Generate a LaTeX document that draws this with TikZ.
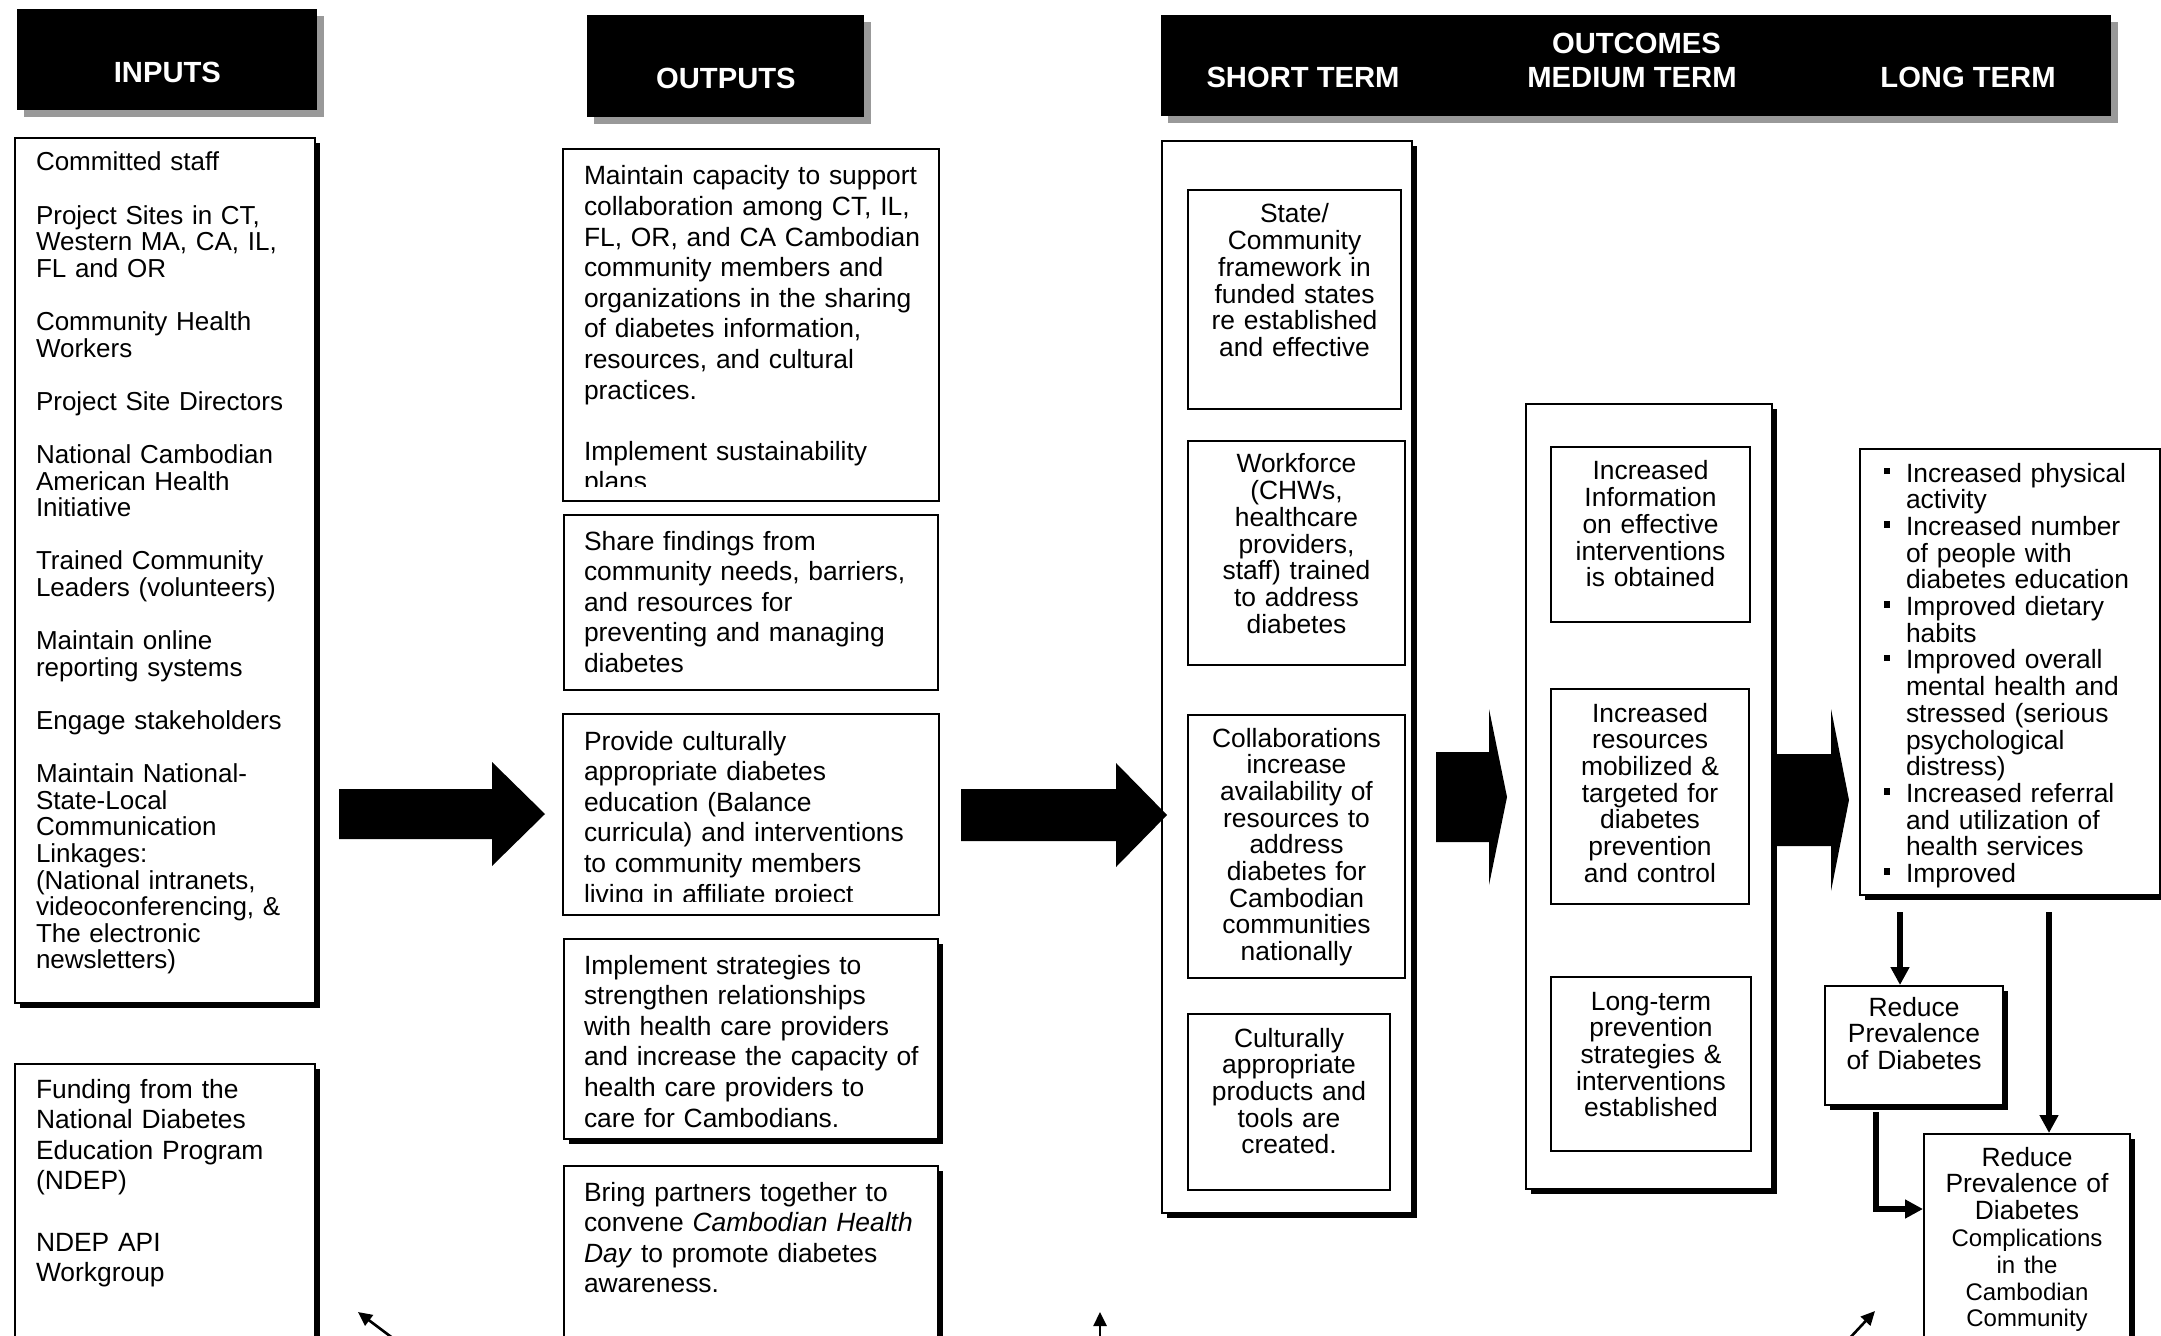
\documentclass[tikz,border=0pt]{standalone}
\usepackage{fontspec}
\setmainfont{Liberation Sans}
\usetikzlibrary{arrows.meta,shadows,calc}

\newcommand{\inputsfont}{\fontsize{13}{13.3}\selectfont}
\newcommand{\outputsfont}{\fontsize{13.2}{15.3}\selectfont}
\newcommand{\outcomefont}{\fontsize{13.2}{13.35}\selectfont}
\newcommand{\headfont}{\fontsize{14.6}{17}\selectfont\bfseries}
\newcommand{\bitem}{\hangindent=11pt\hangafter=1\noindent\makebox[11pt][l]{\rule[3.9pt]{3.2pt}{3.2pt}}}
\newcommand{\indentout}{\leftskip=5pt\relax}

\begin{document}
\begin{tikzpicture}[x=0.5pt, y=-0.5pt,
  hdr/.style={fill=black, text=white, font=\headfont, anchor=north west, inner sep=0pt, align=center,
    drop shadow={shadow xshift=3.5pt, shadow yshift=-3.5pt, fill=black!40, opacity=1}},
  hdrtxt/.style={text=white, font=\headfont, anchor=base, inner sep=0pt},
  box/.style={draw, line width=1pt, fill=white, anchor=north west, inner ysep=0pt, inner xsep=10pt, align=left},
  outbox/.style={box, font=\outputsfont, inner xsep=5pt, text width=177pt, text height=17.5pt},
  bshadow/.style={drop shadow={shadow xshift=2.5pt, shadow yshift=-2.5pt, fill=black, opacity=1}},
  obox/.style={box, align=center, inner xsep=3pt, font=\outcomefont},
  conn/.style={line width=2.8pt, -{Triangle[length=9pt,width=9pt]}},
  ptr/.style={line width=1.3pt, -{Triangle[length=7pt,width=6.5pt]}}]
  \useasboundingbox (0,0) rectangle (2161,1336);
  \clip (0,0) rectangle (2161,1336);

  % headers
  \node[hdr, text width=150pt, text height=36.5pt, text depth=14pt] (hin) at (17,9) {INPUTS};
  \node[hdr, text width=138.5pt, text height=36.5pt, text depth=14.5pt] (hout) at (587,15) {OUTPUTS};
  \node[hdr, text width=475pt, text height=19pt, text depth=31.5pt] (hres) at (1161,15) {OUTCOMES};
  \node[hdrtxt] (hshort) at (1303,88) {SHORT TERM};
  \node[hdrtxt] (hmed) at (1632,88) {MEDIUM TERM};
  \node[hdrtxt] (hlong) at (1968,88) {LONG TERM};

  % inputs
  \node[box, bshadow, font=\inputsfont, inner xsep=10.5pt, text width=129pt, text height=16.5pt, text depth=416pt] (in1) at (14,137)
    {Committed staff\\[13.3pt]
     Project Sites in CT,\\ Western MA, CA, IL,\\ FL and OR\\[13.3pt]
     Community Health\\ Workers\\[13.3pt]
     Project Site Directors\\[13.3pt]
     National Cambodian\\ American Health\\ Initiative\\[13.3pt]
     Trained Community\\ Leaders (volunteers)\\[13.3pt]
     Maintain online\\ reporting systems\\[13.3pt]
     Engage stakeholders\\[13.3pt]
     Maintain National-\\ State-Local\\ Communication\\ Linkages:\\ (National intranets,\\ videoconferencing, \&\\ The electronic\\ newsletters)};
  \node[box, bshadow, font=\outputsfont, inner xsep=10.5pt, text width=129pt, text height=17pt, text depth=124pt] (in2) at (14,1063)
    {Funding from the\\ National Diabetes\\ Education Program\\ (NDEP)\\[15.3pt] NDEP API\\ Workgroup};

  % outputs
  \begin{scope}
    \clip (563,149) rectangle (937,487);
    \node[outbox, draw=none, text depth=157.5pt] (out1) at (563,149)
      {\indentout Maintain capacity to support\\ collaboration among CT, IL,\\ FL, OR, and CA Cambodian\\ community members and\\
       organizations in the sharing\\ of diabetes information,\\ resources, and cultural\\ practices.\\[15.3pt]
       Implement sustainability\\ plans.\par};
  \end{scope}
  \draw[line width=1pt] (out1.north west) rectangle (out1.south east);
  \node[outbox, text depth=70pt] (out2) at (563,514)
    {\indentout Share findings from\\ community needs, barriers,\\ and resources for\\ preventing and managing\\ diabetes\par};
  \begin{scope}
    \clip (563,714) rectangle (937,901);
    \node[outbox, draw=none, text depth=82pt] (out3) at (563,714)
      {\indentout Provide culturally\\ appropriate diabetes\\ education (Balance\\ curricula) and interventions\\
       to community members\\ living in affiliate project\\ sites\par};
  \end{scope}
  \draw[line width=1pt] (out3.north west) rectangle (out3.south east);
  \node[outbox, bshadow, text depth=82.5pt] (out4) at (563,938)
    {\indentout Implement strategies to\\ strengthen relationships\\ with health care providers\\ and increase the capacity of\\
     health care providers to\\ care for Cambodians.\par};
  \node[outbox, bshadow, text depth=72.5pt] (out5) at (563,1165)
    {\indentout Bring partners together to\\ convene \textit{Cambodian Health}\\ \textit{Day} to promote diabetes\\ awareness.\par};

  % short term
  \node[box, bshadow, minimum width=125pt, minimum height=536pt] (sc) at (1161,140) {};
  \node[obox, text width=100.5pt, text height=16.5pt, text depth=93pt] (s1) at (1187,189)
    {State/\\ Community\\ framework in\\ funded states\\ re established\\ and effective};
  \node[obox, text width=102.5pt, text height=16pt, text depth=96pt] (s2) at (1187,440)
    {Workforce\\ (CHWs,\\ healthcare\\ providers,\\ staff) trained\\ to address\\ diabetes};
  \node[obox, text width=102.5pt, text height=16pt, text depth=115.5pt] (s3) at (1187,714)
    {Collaborations\\ increase\\ availability of\\ resources to\\ address\\ diabetes for\\ Cambodian\\ communities\\ nationally};
  \node[obox, text width=95pt, text height=16.5pt, text depth=71.5pt] (s4) at (1187,1013)
    {Culturally\\ appropriate\\ products and\\ tools are\\ created.};

  % medium term
  \node[box, bshadow, minimum width=123pt, minimum height=392.5pt] (mc) at (1525,403) {};
  \node[obox, text width=93.5pt, text height=16.5pt, text depth=71pt] (m1) at (1550,446)
    {Increased\\ Information\\ on effective\\ interventions\\ is obtained};
  \node[obox, text width=93pt, text height=16.5pt, text depth=91pt] (m2) at (1550,688)
    {Increased\\ resources\\ mobilized \&\\ targeted for\\ diabetes\\ prevention\\ and control};
  \node[obox, text width=94pt, text height=16.5pt, text depth=70.5pt] (m3) at (1550,976)
    {Long-term\\ prevention\\ strategies \&\\ interventions\\ established};

  % long term
  \node[box, bshadow, font=\outcomefont, inner xsep=12pt, text width=126pt, text height=16.5pt, text depth=206.5pt] (lt) at (1859,448)
    {\bitem Increased physical\newline activity\par
     \bitem Increased number\newline of people with\newline diabetes education\par
     \bitem Improved dietary\newline habits\par
     \bitem Improved overall\newline mental health and\newline stressed (serious\newline psychological\newline distress)\par
     \bitem Increased referral\newline and utilization of\newline health services\par
     \bitem Improved};
  \node[obox, bshadow, text width=83pt, text height=15pt, text depth=44.5pt] (rp1) at (1824,985)
    {Reduce\\ Prevalence\\ of Diabetes};
  \node[obox, bshadow, font=\fontsize{13.2}{13.4}\selectfont, text width=97pt, text height=16pt, text depth=90pt] (rp2) at (1923,1133)
    {Reduce\\ Prevalence of\\ Diabetes\\ {\fontsize{12}{13.4}\selectfont Complications\\ in the\\ Cambodian\\ Community}};

  % block arrows between columns
  \foreach \xa/\xb/\xc/\ym/\sh/\hh in {339/492/545/814/25/52, 961/1116/1167/815/26/52,
                                       1436/1489/1507/797/45/88, 1777/1831/1849/800/46/91}
    \fill[black] (\xa,\ym-\sh) -- (\xb,\ym-\sh) -- (\xb,\ym-\hh) -- (\xc,\ym) -- (\xb,\ym+\hh) -- (\xb,\ym+\sh) -- (\xa,\ym+\sh) -- cycle;

  % long term links
  \coordinate (d1) at ($(lt.south west)+(41,16)$);
  \coordinate (d2) at ($(lt.south west)+(190,16)$);
  \draw[conn] (d1) -- (d1 |- rp1.north);
  \draw[conn] (d2) -- (d2 |- rp2.north);
  \coordinate (e1) at ($(rp1.south west)+(52,6)$);
  \coordinate (e2) at ($(rp2.north west)+(0,76)$);
  \draw[conn] (e1) |- (e2);

  % small pointers at the bottom
  \coordinate (p1s) at (398,1342); \coordinate (p1e) at (358,1312);
  \coordinate (p2s) at (1100,1345); \coordinate (p2e) at (1100,1312);
  \coordinate (p3s) at (1847,1341); \coordinate (p3e) at (1875,1311);
  \draw[ptr] (p1s) -- (p1e);
  \draw[ptr] (p2s) -- (p2e);
  \draw[ptr] (p3s) -- (p3e);
\end{tikzpicture}
\end{document}
